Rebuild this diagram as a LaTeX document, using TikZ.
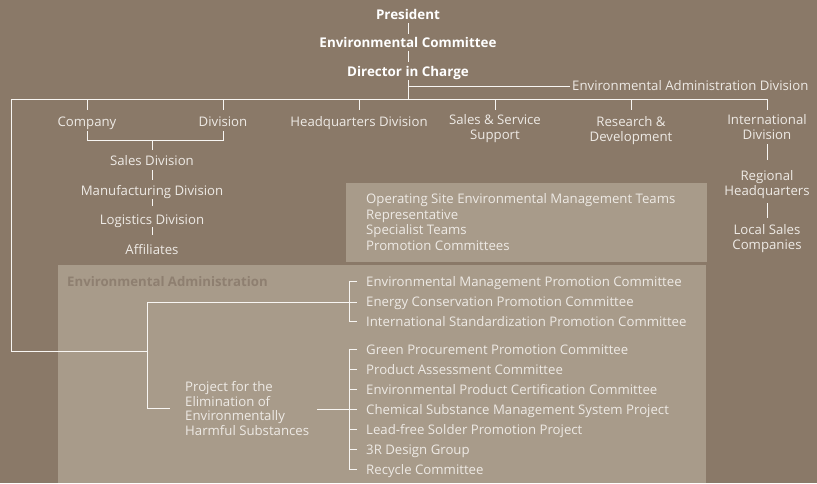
\documentclass[tikz,border=0pt]{standalone}
\usepackage{fontspec}
\setmainfont{Open Sans}
\definecolor{bg}{RGB}{138,121,104}
\definecolor{panel}{RGB}{168,155,138}
\definecolor{txt}{RGB}{238,234,229}
\definecolor{dim}{RGB}{142,127,112}
\definecolor{ln}{RGB}{248,246,243}
\tikzset{
  lbl/.style={text=txt,font=\fontsize{13.2}{15}\selectfont,inner sep=0pt,anchor=base},
  lw/.style={lbl,anchor=base west},
  ml/.style={lbl,align=center},
  head/.style={text=white,font=\bfseries\fontsize{13.4}{15}\selectfont,inner sep=0pt,anchor=base},
  con/.style={draw=ln,line width=1pt},
}
\begin{document}
\begin{tikzpicture}[x=1pt,y=-1pt]
\useasboundingbox (0,0) rectangle (817,483);
\fill[bg] (0,0) rectangle (817,483);
\fill[panel] (346,183) rectangle (707,262);
\fill[panel] (58,265) rectangle (706,483);

% header
\node[head] (pres) at (408,19) {President};
\node[head] (envc) at (408,47.5) {Environmental Committee};
\node[head] (dir) at (408,76) {Director in Charge};
\coordinate (p1) at (408,23); \coordinate (p2) at (408,34);
\coordinate (e1) at (408,51); \coordinate (e2) at (408,62);
\coordinate (d1) at (408,80); \coordinate (d2) at (408,99);
\draw[con] (p1) -- (p2);
\draw[con] (e1) -- (e2);
\draw[con] (d1) -- (d2);
\node[lw] (ead) at (572,90.5) {Environmental Administration Division};
\coordinate (da) at (408,86);
\draw[con] (da) -- ([xshift=-2pt]ead.west |- da);

% bar
\coordinate (barL) at (11,99); \coordinate (barR) at (767,99);
\draw[con] (barL) -- (barR);

\node[lbl] (comp) at (87,126) {Company};
\node[lbl] (div) at (223,126) {Division};
\node[lbl] (hq) at (359,126) {Headquarters Division};
\node[ml] (ss) at (495,139) {Sales \& Service\\Support};
\node[ml] (rd) at (631,141) {Research \&\\Development};
\node[ml] (intl) at (767,139) {International\\Division};
\foreach \n/\x in {comp/87,div/223,hq/359,ss/495,rd/631,intl/767}
  \draw[con] (\x,99) -- (\x,110);

% company/division branch
\coordinate (cb) at (87,140); \coordinate (db) at (223,140);
\draw[con] (87,131) -- (cb) -- (db) -- (223,131);
\node[lbl] (sales) at (152,165.5) {Sales Division};
\node[lbl] (manu) at (152,195) {Manufacturing Division};
\node[lbl] (logi) at (152,224) {Logistics Division};
\node[lbl] (affi) at (152,254) {Affiliates};
\draw[con] (152,140) -- (152,150);
\draw[con] (152,170) -- (152,180);
\draw[con] (152,199) -- (152,206);
\draw[con] (152,227) -- (152,235);

% international branch
\node[ml] (reg) at (767,195) {Regional\\Headquarters};
\node[ml] (loc) at (767,249.5) {Local Sales\\Companies};
\draw[con] (767,144) -- (767,160);
\draw[con] (767,203) -- (767,218);

% operating site panel
\node[lbl,align=left,anchor=base west,font=\fontsize{13.2}{15.8}\selectfont] (ops) at (366,250.7) {Operating Site Environmental Management Teams\\Representative\\Specialist Teams\\Promotion Committees};

% environmental administration
\node[text=dim,font=\bfseries\fontsize{13.2}{15}\selectfont,inner sep=0pt,anchor=base west] (ea) at (67,286) {Environmental Administration};

\coordinate (lv) at (11,351); \coordinate (jn) at (147,351);
\draw[con] (barL) -- (lv) -- (jn);
\coordinate (jt) at (147,302); \coordinate (jb) at (147,408);
\draw[con] (jt) -- (jb);
\coordinate (pj) at (170,408);
\draw[con] (jb) -- (pj);
\node[lbl,align=left,anchor=base west,font=\fontsize{13.2}{14.4}\selectfont] (proj) at (185,435) {Project for the\\Elimination of\\Environmentally\\Harmful Substances};

% bracket 1
\foreach \t/\y [count=\i] in {Environmental Management Promotion Committee/281,Energy Conservation Promotion Committee/301,International Standardization Promotion Committee/321}
  \node[lw] (a\i) at (366,\y+5) {\t};
\draw[con] (357,281) -- (349,281) -- (349,321) -- (357,321);
\draw[con] (jt) -- (357,302);

% bracket 2
\foreach \t/\y [count=\i] in {Green Procurement Promotion Committee/349,Product Assessment Committee/369,Environmental Product Certification Committee/389,Chemical Substance Management System Project/409,Lead-free Solder Promotion Project/429,3R Design Group/449,Recycle Committee/469}
  \node[lw] (b\i) at (366,\y+5) {\t};
\draw[con] (357,349) -- (349,349) -- (349,469) -- (357,469);
\foreach \y in {369,389,429,449} \draw[con] (349,\y) -- (357,\y);
\draw[con] (317,409) -- (357,409);
\end{tikzpicture}
\end{document}
